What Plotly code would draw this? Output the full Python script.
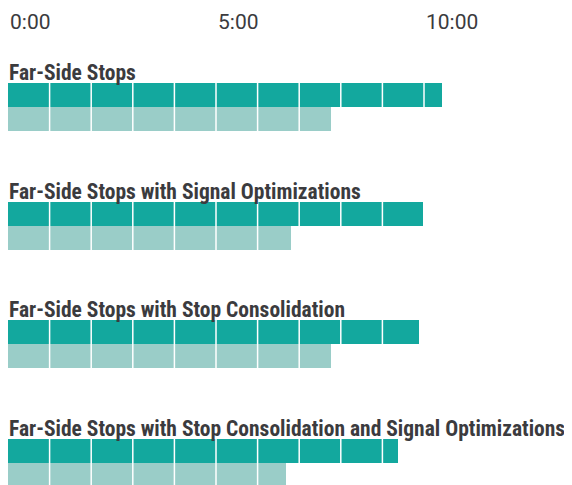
import plotly.graph_objects as go

# travel times in minutes
scenarios = [
    'Far-Side Stops',
    'Far-Side Stops with Signal Optimizations',
    'Far-Side Stops with Stop Consolidation',
    'Far-Side Stops with Stop Consolidation and Signal Optimizations',
]
dark_minutes = [10.43, 9.97, 9.87, 9.37]
light_minutes = [7.76, 6.80, 7.76, 6.68]
tick_vals = [0, 5, 10]
tick_text = ['0:00', '5:00', '10:00']

DARK = '#13a89e'
LIGHT = '#9acdc8'
TEXT = '#3b3b3e'

row_px = 118.6
bar_w = 24 / row_px

fig = go.Figure()
fig.add_trace(go.Bar(
    y=scenarios, x=dark_minutes, orientation='h',
    width=bar_w, offset=-bar_w,
    marker=dict(color=DARK, line=dict(width=0)),
    hoverinfo='x',
))
fig.add_trace(go.Bar(
    y=scenarios, x=light_minutes, orientation='h',
    width=bar_w, offset=0,
    marker=dict(color=LIGHT, line=dict(width=0)),
    hoverinfo='x',
))

# white minute separators drawn over the bars
for m in range(1, 11):
    fig.add_shape(type='line', xref='x', yref='paper', x0=m, x1=m, y0=0, y1=1,
                  line=dict(color='white', width=1.5), layer='above')

for name in scenarios:
    fig.add_annotation(
        x=0, y=name, xref='x', yref='y', text=name, showarrow=False,
        xanchor='left', yanchor='bottom', yshift=20, xshift=-1,
        font=dict(family='Roboto Condensed, Noto Sans Condensed, '
                         'Liberation Sans Narrow, DejaVu Sans Condensed, sans-serif',
                  size=21.5, color=TEXT, weight='bold'),
    )

# the page body adds an 8px margin, so the figure is 8px smaller each way
fig.update_layout(
    width=564, height=477,
    margin=dict(l=0, r=0, t=37, b=0),
    paper_bgcolor='white', plot_bgcolor='white',
    showlegend=False,
    bargap=0,
    xaxis=dict(
        side='top', range=[0, 564 / 41.6], automargin=False,
        tickmode='array', tickvals=tick_vals, ticktext=tick_text,
        ticklabelposition='outside right', ticklabelshift=2, ticklabelstandoff=11,
        tickfont=dict(family='Roboto, sans-serif', size=21, color=TEXT),
        showgrid=False, zeroline=False, showline=False, ticks='',
    ),
    yaxis=dict(
        range=[(485 - 107) / row_px, (45 - 107) / row_px], automargin=False,
        showticklabels=False, showgrid=False, zeroline=False, showline=False,
    ),
)

fig.write_html('out.html')
